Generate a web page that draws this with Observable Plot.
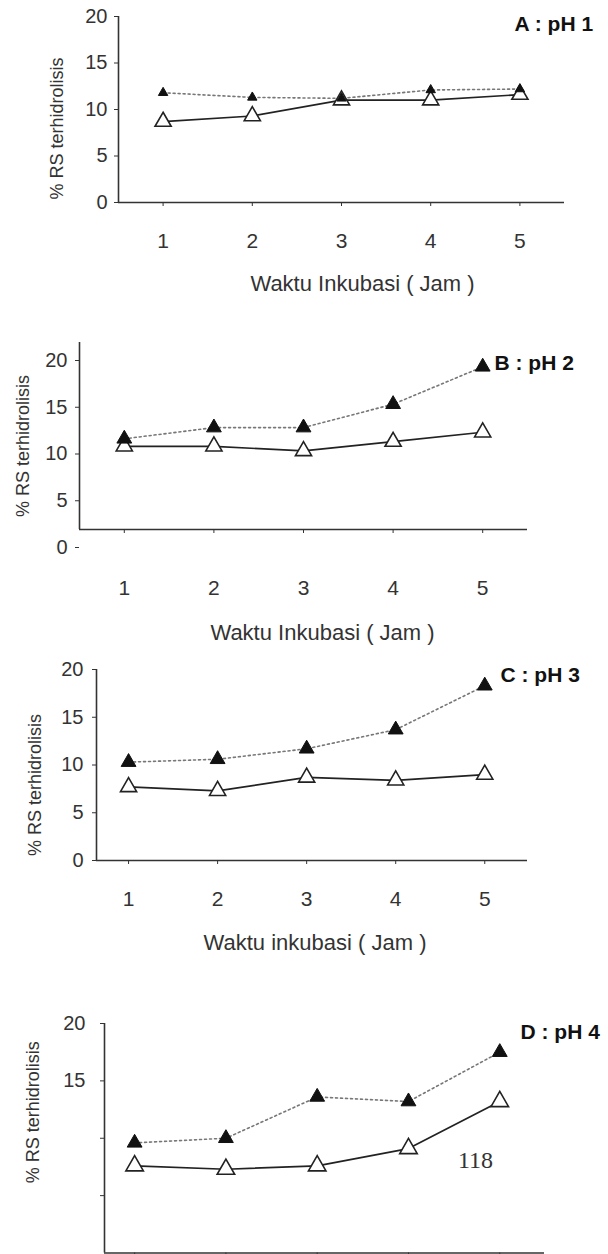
<!DOCTYPE html>
<html><head><meta charset="utf-8">
<script src="https://cdn.jsdelivr.net/npm/d3@7"></script>
<script src="https://cdn.jsdelivr.net/npm/@observablehq/plot@0.6"></script>
<style>
html,body{margin:0;padding:0;background:#fff;}
#fig{position:relative;width:608px;height:1254px;overflow:hidden;background:#fff;}
#fig svg{position:absolute;left:0;}
</style></head><body><div id="fig"></div>
<script>
// ---- data ----
const hours = [1, 2, 3, 4, 5];
const yTicks = [0, 5, 10, 15, 20];
const yTicksD = [5, 10, 15, 20];
const yLabelsD = [15, 20];

const openA   = [8.7, 9.3, 11.0, 11.0, 11.6];
const filledA = [11.8, 11.3, 11.2, 12.1, 12.2];
const openB   = [8.9, 8.9, 8.4, 9.4, 10.4];
const filledB = [9.7, 10.9, 10.9, 13.4, 17.4];
const openC   = [7.7, 7.3, 8.7, 8.4, 9.0];
const filledC = [10.3, 10.6, 11.7, 13.7, 18.3];
const openD   = [7.6, 7.3, 7.6, 9.1, 13.2];
const filledD = [9.6, 10.0, 13.6, 13.2, 17.5];

const titles = ["A : pH 1", "B : pH 2", "C : pH 3", "D : pH 4"];
const xLabels = ["Waktu Inkubasi ( Jam )", "Waktu Inkubasi ( Jam )", "Waktu inkubasi ( Jam )", null];
const yLabel = "% RS terhidrolisis";
const noteD = "118";

// ---- layout ----
const layouts = [
  {open: openA, filled: filledA, top: 0, height: 300, mt: 16, mb: 98, ml: 118, mr: 44, xd: [0.5, 5.5],
   tickOff: 31, yPad: 7, yDy: 0, xlab: [21, 81], ylab: [-61, 19], title: [-50, 8], fr: 3.5, or: 6},
  {open: openB, filled: filledB, top: 300, height: 340, mt: 42, mb: 111, ml: 79, mr: 81, xd: [0.5, 5.5],
   tickOff: 51, yPad: 8, yDy: 18, xlab: [19, 103], ylab: [-56, 10], title: [-33, 21], fr: 5.5, or: 6},
  {open: openC, filled: filledC, top: 640, height: 320, mt: 29, mb: 100, ml: 96, mr: 81, xd: [0.64, 5.48],
   tickOff: 31, yPad: 9, yDy: 0, xlab: [3, 82], ylab: [-61, 20], title: [-27, 6], fr: 5.5, or: 6},
  {open: openD, filled: filledD, top: 960, height: 294, mt: 63, mb: 1.5, ml: 104, mr: 64, xd: [0.67, 5.49],
   tickOff: 31, yPad: 15, yDy: 0, xlab: null, ylab: [-71, -26], title: [-24, 9], fr: 5.5, or: 6.5}
];

const fig = document.getElementById("fig");
const font = "'Liberation Sans', Arial, Helvetica, sans-serif";

layouts.forEach((L, i) => {
  const openData = hours.map((h, j) => ({h, v: L.open[j]}));
  const filledData = hours.map((h, j) => ({h, v: L.filled[j]}));
  const isD = i === 3;
  const marks = [
    Plot.ruleY([0], {stroke: "#333", strokeWidth: 1.6}),
    Plot.ruleX([L.xd[0]], {stroke: "#333", strokeWidth: 1.6}),
    Plot.axisX({ticks: hours, tickSize: 4, tickPadding: L.tickOff - 4, fontSize: 21, color: "#333",
      tickFormat: isD ? () => "" : d => d, label: null}),
    Plot.axisY({ticks: isD ? yTicksD : yTicks, tickSize: 4, tickPadding: L.yPad, fontSize: 20, color: "#333",
      dy: L.yDy, tickFormat: isD ? d => (yLabelsD.includes(d) ? d : "") : d => d, label: null}),
    Plot.line(filledData, {x: "h", y: "v", stroke: "#777", strokeWidth: 1.6, strokeDasharray: "2,3"}),
    Plot.line(openData, {x: "h", y: "v", stroke: "#222", strokeWidth: 1.7}),
    Plot.dot(openData, {x: "h", y: "v", symbol: "triangle", r: L.or, fill: "white", stroke: "#222", strokeWidth: 1.6}),
    Plot.dot(filledData, {x: "h", y: "v", symbol: "triangle", r: L.fr, fill: "#111", stroke: "#111", strokeWidth: 1}),
    Plot.text([titles[i]], {text: d => d, frameAnchor: "top-right", textAnchor: "start", lineAnchor: "middle",
      dx: L.title[0], dy: L.title[1], fontSize: 21, fontWeight: "bold", fill: "#111"}),
    Plot.text([yLabel], {text: d => d, frameAnchor: "left", rotate: -90, textAnchor: "middle", lineAnchor: "middle",
      dx: L.ylab[0], dy: L.ylab[1], fontSize: 18, fill: "#333"})
  ];
  if (L.xlab) {
    marks.push(Plot.text([xLabels[i]], {text: d => d, frameAnchor: "bottom", textAnchor: "middle", lineAnchor: "middle",
      dx: L.xlab[0], dy: L.xlab[1], fontSize: 22, fill: "#333"}));
  }
  if (isD) {
    marks.push(Plot.text([noteD], {text: d => d, frameAnchor: "bottom-right", textAnchor: "middle", lineAnchor: "middle",
      dx: -69, dy: -92.5, fontSize: 24, fontFamily: "'Liberation Serif', 'Times New Roman', serif", fill: "#333"}));
  }
  const svg = Plot.plot({
    width: 608, height: L.height,
    marginTop: L.mt, marginBottom: L.mb, marginLeft: L.ml, marginRight: L.mr,
    x: {domain: L.xd, axis: null},
    y: {domain: [0, 20], axis: null},
    style: {fontFamily: font, background: "transparent", overflow: "visible"},
    marks
  });
  svg.style.top = L.top + "px";
  fig.appendChild(svg);
});
</script></body></html>
